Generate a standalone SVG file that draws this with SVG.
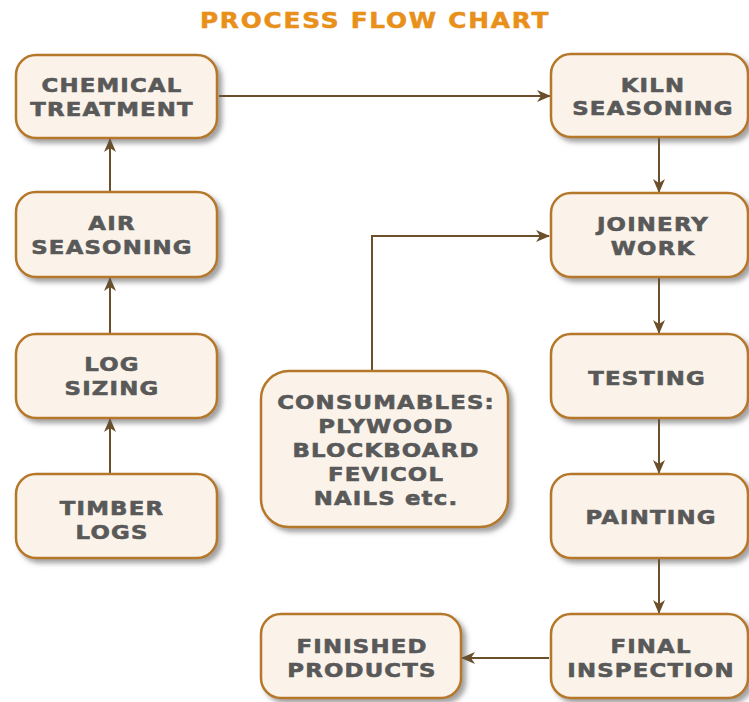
<svg xmlns="http://www.w3.org/2000/svg" width="749" height="702" viewBox="0 0 749 702">
<defs>
<filter id="sh" x="-10%" y="-10%" width="130%" height="140%">
<feDropShadow dx="4" dy="4" stdDeviation="2.5" flood-color="#555" flood-opacity="0.55"/>
</filter>
<marker id="ah" markerUnits="userSpaceOnUse" markerWidth="14" markerHeight="12" refX="13" refY="6" orient="auto">
<path d="M0,0 L14,6 L0,12 L4,6 Z" fill="#6B4F2A"/>
</marker>
<style>
.box{fill:#FBF3EA;stroke:#B5772A;stroke-width:2.5;filter:url(#sh)}
.t{font-family:"DejaVu Sans",Verdana,sans-serif;font-weight:bold;font-size:19px;letter-spacing:1px;fill:#595959;stroke:#595959;stroke-width:0.6;text-anchor:middle}
.title{font-family:"DejaVu Sans",Verdana,sans-serif;font-weight:bold;font-size:21px;letter-spacing:1.5px;fill:#E8901A;stroke:#E8901A;stroke-width:0.5;text-anchor:middle}
.c{fill:none;stroke:#6B4F2A;stroke-width:2;marker-end:url(#ah)}
</style>
</defs>
<rect width="749" height="702" fill="#fff"/>
<text class="title" transform="translate(375,0) scale(1.18,1)" x="0" y="28">PROCESS FLOW CHART</text>
<g id="connectors">
<path class="c" d="M219,96 H550"/>
<path class="c" d="M659,138 V192"/>
<path class="c" d="M659,278 V333"/>
<path class="c" d="M659,419 V473"/>
<path class="c" d="M659,559 V613"/>
<path class="c" d="M549,658 H462"/>
<path class="c" d="M372,370 V236 H549"/>
<path class="c" d="M110,473 V419"/>
<path class="c" d="M110,333 V278"/>
<path class="c" d="M110,191 V139"/>
</g>
<g id="chemical">
<rect class="box" x="16" y="55" width="201" height="83" rx="20"/>
<text class="t" transform="translate(112,0) scale(1.2,1)" x="0" y="92">CHEMICAL</text>
<text class="t" transform="translate(112,0) scale(1.2,1)" x="0" y="116">TREATMENT</text>
</g>
<g id="air">
<rect class="box" x="16" y="192" width="201" height="85" rx="20"/>
<text class="t" transform="translate(112,0) scale(1.2,1)" x="0" y="230">AIR</text>
<text class="t" transform="translate(112,0) scale(1.2,1)" x="0" y="254">SEASONING</text>
</g>
<g id="logsizing">
<rect class="box" x="16" y="334" width="201" height="84" rx="20"/>
<text class="t" transform="translate(112,0) scale(1.2,1)" x="0" y="371">LOG</text>
<text class="t" transform="translate(112,0) scale(1.2,1)" x="0" y="395">SIZING</text>
</g>
<g id="timber">
<rect class="box" x="16" y="474" width="201" height="84" rx="20"/>
<text class="t" transform="translate(112,0) scale(1.2,1)" x="0" y="515">TIMBER</text>
<text class="t" transform="translate(112,0) scale(1.2,1)" x="0" y="539">LOGS</text>
</g>
<g id="kiln">
<rect class="box" x="551" y="54" width="197" height="83" rx="20"/>
<text class="t" transform="translate(653,0) scale(1.2,1)" x="0" y="92">KILN</text>
<text class="t" transform="translate(653,0) scale(1.2,1)" x="0" y="115">SEASONING</text>
</g>
<g id="joinery">
<rect class="box" x="551" y="193" width="197" height="84" rx="20"/>
<text class="t" transform="translate(653,0) scale(1.2,1)" x="0" y="231">JOINERY</text>
<text class="t" transform="translate(653,0) scale(1.2,1)" x="0" y="255">WORK</text>
</g>
<g id="testing">
<rect class="box" x="551" y="334" width="197" height="84" rx="20"/>
<text class="t" transform="translate(647,0) scale(1.2,1)" x="0" y="385">TESTING</text>
</g>
<g id="painting">
<rect class="box" x="551" y="474" width="197" height="84" rx="20"/>
<text class="t" transform="translate(651,0) scale(1.2,1)" x="0" y="524">PAINTING</text>
</g>
<g id="final">
<rect class="box" x="551" y="614" width="197" height="84" rx="20"/>
<text class="t" transform="translate(651,0) scale(1.2,1)" x="0" y="653">FINAL</text>
<text class="t" transform="translate(651,0) scale(1.2,1)" x="0" y="677">INSPECTION</text>
</g>
<g id="finished">
<rect class="box" x="261" y="614" width="200" height="84" rx="20"/>
<text class="t" transform="translate(362,0) scale(1.2,1)" x="0" y="653">FINISHED</text>
<text class="t" transform="translate(362,0) scale(1.2,1)" x="0" y="677">PRODUCTS</text>
</g>
<g id="consumables">
<rect class="box" x="261" y="371" width="247" height="156" rx="28"/>
<text class="t" transform="translate(386,0) scale(1.2,1)" x="0" y="409">CONSUMABLES:</text>
<text class="t" transform="translate(386,0) scale(1.2,1)" x="0" y="433">PLYWOOD</text>
<text class="t" transform="translate(386,0) scale(1.2,1)" x="0" y="457">BLOCKBOARD</text>
<text class="t" transform="translate(386,0) scale(1.2,1)" x="0" y="481">FEVICOL</text>
<text class="t" transform="translate(386,0) scale(1.2,1)" x="0" y="505">NAILS etc.</text>
</g>
</svg>
